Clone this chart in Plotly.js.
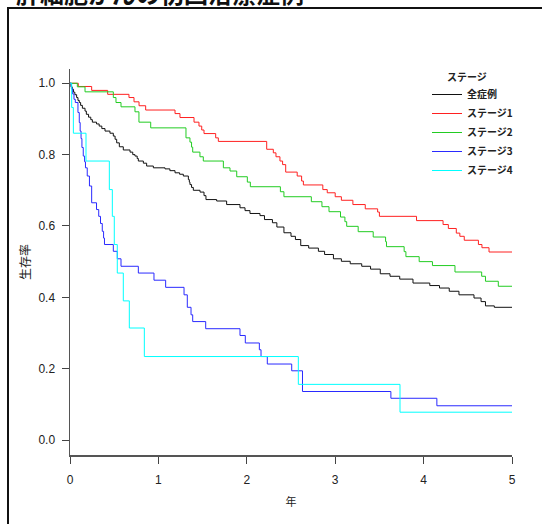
<!DOCTYPE html>
<html>
<head>
<meta charset="utf-8">
<script src="https://cdn.plot.ly/plotly-3.0.1.min.js"></script>
<style>
html,body{margin:0;padding:0;background:#fff;}
#chart{width:542px;height:524px;}
</style>
</head>
<body>
<div id="chart"></div>
<script>
// ---- data (time in years, survival after each drop) ----
var chartTitle = "肝細胞がんの初回治療症例";
var legendTitle = "ステージ";
var seriesNames = ["全症例", "ステージ1", "ステージ2", "ステージ3", "ステージ4"];
var xTicks = [0, 1, 2, 3, 4, 5];
var yTicks = [0.0, 0.2, 0.4, 0.6, 0.8, 1.0];
var xLabel = "年";
var yLabel = "生存率";
var followUpEnd = 5;

var t_all = [0,0.011,0.025,0.04,0.055,0.075,0.09,0.105,0.12,0.14,0.17,0.185,0.21,0.235,0.253,0.3,0.33,0.36,0.396,0.452,0.49,0.51,0.528,0.558,0.603,0.679,0.71,0.735,0.76,0.773,0.83,0.867,0.943,1.075,1.13,1.188,1.24,1.282,1.339,1.35,1.357,1.375,1.395,1.471,1.516,1.538,1.659,1.772,1.923,1.98,2.036,2.149,2.2,2.29,2.34,2.42,2.5,2.55,2.61,2.7,2.81,2.88,2.98,3.07,3.17,3.3,3.4,3.51,3.62,3.73,3.88,4.07,4.18,4.29,4.4,4.57,4.65,4.7,4.8];
var s_all = [1.0,0.99,0.983,0.975,0.968,0.96,0.952,0.946,0.938,0.93,0.922,0.913,0.905,0.898,0.891,0.886,0.88,0.873,0.866,0.86,0.852,0.843,0.833,0.822,0.813,0.807,0.8,0.796,0.789,0.782,0.776,0.768,0.763,0.76,0.755,0.749,0.745,0.74,0.73,0.723,0.716,0.708,0.7,0.695,0.685,0.674,0.67,0.66,0.651,0.643,0.635,0.629,0.618,0.609,0.597,0.581,0.571,0.562,0.545,0.538,0.529,0.52,0.508,0.501,0.494,0.487,0.479,0.466,0.459,0.451,0.44,0.433,0.426,0.417,0.407,0.398,0.388,0.376,0.372];

var t_s1 = [0,0.094,0.245,0.426,0.667,0.724,0.781,0.856,1.188,1.244,1.403,1.459,1.49,1.516,1.648,1.678,2.225,2.3,2.33,2.375,2.405,2.44,2.57,2.62,2.64,2.86,2.91,3.0,3.07,3.2,3.34,3.48,3.5,3.92,4.22,4.28,4.37,4.41,4.46,4.62,4.66,4.74];
var s_s1 = [1.0,0.991,0.98,0.969,0.96,0.948,0.937,0.925,0.915,0.904,0.891,0.88,0.869,0.859,0.847,0.837,0.815,0.805,0.794,0.782,0.772,0.751,0.74,0.726,0.715,0.702,0.693,0.682,0.672,0.66,0.648,0.639,0.627,0.615,0.604,0.593,0.58,0.571,0.56,0.548,0.539,0.527];

var t_s2 = [0,0.083,0.17,0.49,0.52,0.577,0.735,0.78,0.913,1.312,1.357,1.375,1.388,1.47,1.508,1.735,1.81,1.886,2.006,2.04,2.38,2.42,2.73,2.85,2.93,3.06,3.11,3.13,3.26,3.43,3.57,3.58,3.78,3.8,3.95,4.1,4.355,4.657,4.7,4.845];
var s_s2 = [1.0,0.99,0.976,0.96,0.946,0.934,0.92,0.891,0.875,0.847,0.835,0.821,0.807,0.794,0.782,0.763,0.754,0.738,0.723,0.71,0.696,0.682,0.668,0.654,0.64,0.625,0.612,0.599,0.584,0.569,0.556,0.542,0.528,0.514,0.5,0.489,0.471,0.459,0.445,0.431];

var t_s3 = [0,0.015,0.03,0.045,0.06,0.09,0.105,0.115,0.125,0.135,0.15,0.165,0.175,0.195,0.22,0.245,0.3,0.325,0.345,0.365,0.38,0.39,0.49,0.535,0.577,0.773,0.95,1.082,1.29,1.327,1.369,1.388,1.535,1.923,1.983,2.142,2.161,2.232,2.508,2.63,3.63,4.15];
var s_s3 = [1.0,0.985,0.97,0.955,0.946,0.918,0.89,0.866,0.845,0.82,0.796,0.78,0.763,0.74,0.712,0.665,0.646,0.627,0.607,0.585,0.566,0.548,0.529,0.508,0.487,0.468,0.448,0.428,0.407,0.372,0.351,0.332,0.312,0.293,0.272,0.253,0.234,0.213,0.194,0.136,0.117,0.096];

var t_s4 = [0,0.019,0.038,0.181,0.445,0.479,0.501,0.535,0.603,0.671,0.841,2.583,3.733];
var s_s4 = [1.0,0.932,0.86,0.782,0.702,0.627,0.548,0.468,0.39,0.314,0.234,0.156,0.078];

var colors = ["#111111", "#ff2020", "#22cc22", "#2a2aff", "#00ffff"];

// ---- build step traces ----
function stepTrace(t, s, name, color) {
  var x = t.slice(); var y = s.slice();
  x.push(followUpEnd); y.push(s[s.length - 1]);
  return {x: x, y: y, name: name, type: "scatter", mode: "lines",
          line: {shape: "hv", color: color, width: 1}};
}
var data = [
  stepTrace(t_all, s_all, seriesNames[0], colors[0]),
  stepTrace(t_s1, s_s1, seriesNames[1], colors[1]),
  stepTrace(t_s2, s_s2, seriesNames[2], colors[2]),
  stepTrace(t_s3, s_s3, seriesNames[3], colors[3]),
  stepTrace(t_s4, s_s4, seriesNames[4], colors[4])
];

var W = 542, H = 524, L = 70, R = 30, T = 69, B = 69;
var pw = W - L - R, ph = H - T - B;
function px(xpix) { return (xpix - L) / pw; }
function py(ypix) { return (H - B - ypix) / ph; }

var layout = {
  width: W, height: H,
  margin: {l: L, r: R, t: T, b: B, pad: 0},
  paper_bgcolor: "#ffffff", plot_bgcolor: "#ffffff",
  font: {family: "Liberation Sans, Arial, sans-serif", color: "#222"},
  showlegend: true,
  legend: {
    x: px(427), y: py(80), xanchor: "left", yanchor: "top",
    bgcolor: "rgba(0,0,0,0)",
    font: {family: "Noto Sans CJK JP", size: 10, color: "#222", weight: "bold"},
    itemwidth: 30
  },
  xaxis: {
    range: [0, 5], tickvals: xTicks, ticks: "outside", ticklen: 7, tickcolor: "#444",
    showline: true, linecolor: "#555", linewidth: 1.5, showgrid: false, zeroline: false,
    tickfont: {size: 12, color: "#222"}, ticklabelstandoff: 6,
    title: {text: xLabel, font: {family: "Noto Sans CJK JP", size: 11, color: "#222"}, standoff: 12},
    fixedrange: true
  },
  yaxis: {
    range: [-0.042, 1.04], tickvals: yTicks, tickformat: ".1f", ticks: "outside", ticklen: 7, tickcolor: "#444",
    showline: true, linecolor: "#555", linewidth: 1.5, showgrid: false, zeroline: false,
    tickfont: {size: 12, color: "#222"}, ticklabelstandoff: 4,
    title: {text: yLabel, font: {family: "Noto Sans CJK JP", size: 12, color: "#222"}, standoff: 5},
    fixedrange: true
  },
  shapes: [{
    type: "rect", xref: "paper", yref: "paper",
    x0: px(8), x1: px(600), y0: py(600), y1: py(8),
    line: {color: "#111", width: 2}, fillcolor: "rgba(0,0,0,0)", layer: "above"
  }],
  annotations: [{
    text: "<b>" + chartTitle + "</b>", xref: "paper", yref: "paper",
    x: px(14), y: py(-7), xanchor: "left", yanchor: "middle", showarrow: false,
    font: {family: "Noto Sans CJK JP", size: 24, color: "#111"}
  }, {
    text: "<b>" + legendTitle + "</b>", xref: "paper", yref: "paper",
    x: px(445), y: py(77), xanchor: "left", yanchor: "middle", showarrow: false,
    font: {family: "Noto Sans CJK JP", size: 10, color: "#222"}
  }]
};

Plotly.newPlot("chart", data, layout, {displayModeBar: false, staticPlot: true});
</script>
</body>
</html>
